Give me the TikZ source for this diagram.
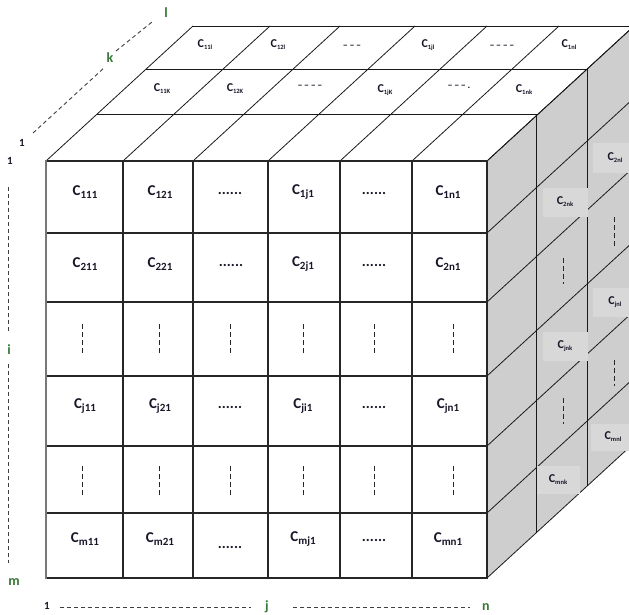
\documentclass[tikz,border=0pt]{standalone}
\usepackage{fontspec}
\setmainfont{Carlito}
\definecolor{facegray}{RGB}{206,206,206}
\definecolor{boxgray}{RGB}{216,216,216}
\definecolor{ink}{RGB}{22,22,40}
\definecolor{axisgreen}{RGB}{55,120,55}
\definecolor{edgegray}{RGB}{120,120,120}
\newcommand\FL[1]{{\fontsize{15}{15}\selectfont\bfseries C\raisebox{-2.6pt}{\fontsize{11}{11}\selectfont #1}}}
\newcommand\SL[1]{{\fontsize{12}{12}\selectfont\bfseries C\raisebox{-2pt}{\fontsize{6.5}{6.5}\selectfont #1}}}
\newcommand\DOTS{{\fontsize{15}{15}\selectfont\bfseries ......}}
\begin{document}
\begin{tikzpicture}[x=1pt,y=-1pt,
  grid/.style={draw=black!85,line width=1.1pt},
  thin/.style={draw=black!90,line width=0.8pt},
  flab/.style={inner sep=0pt,text=ink},
  slab/.style={inner sep=0pt,text=ink,fill=boxgray,minimum width=45pt,minimum height=29pt},
  tlab/.style={inner sep=0pt,text=ink},
  vmark/.style={draw=black!85,line width=1pt,dash pattern=on 5pt off 3pt},
  axdash/.style={draw=black!75,line width=0.9pt,dash pattern=on 4pt off 3pt},
  axnum/.style={inner sep=0pt,text=ink,font=\fontsize{11}{11}\selectfont\bfseries},
  axlet/.style={inner sep=0pt,text=axisgreen,font=\fontsize{14}{14}\selectfont\bfseries}]
\path[use as bounding box] (0,0) rectangle (629,615);
\begin{scope}
\clip (0,0) rectangle (629,615);
% right face
\fill[facegray] (487,161) -- (634,26) -- (634,443) -- (487,578) -- cycle;
% right face verticals (layers)
\draw[thin] (536,114) -- (536,533);
\draw[thin] (587,69) -- (587,486);
\draw[thin] (634,26) -- (634,443);
% right face diagonals
\foreach \y in {161,233,302,376,446,513,578}
  \draw[thin] (487,\y) -- (634,\y-135);
% top face horizontals
\draw[thin] (97,114) -- (536,114);
\draw[thin] (146,69) -- (587,69);
\draw[thin] (193,26) -- (634,26);
% top face slants
\foreach \x in {46,123,193,268,340,412,487}
  \draw[thin] (\x,161) -- (\x+147,26);
% front face
\foreach \x in {123,193,268,340,412}
  \draw[grid] (\x,161) -- (\x,578);
\foreach \y in {233,302,376,446,513}
  \draw[grid] (46,\y) -- (487,\y);
\draw[grid] (46,161) -- (487,161) -- (487,578) -- (46,578);
\draw[draw=edgegray,line width=1.8pt] (46,160) -- (46,579);
\end{scope}

% front labels
\node[flab] (f11) at (85,192) {\FL{111}};
\node[flab] (f12) at (160,192) {\FL{121}};
\node[flab] (f13) at (230,193) {\DOTS};
\node[flab] (f14) at (303,192) {\FL{1j1}};
\node[flab] (f15) at (374,193) {\DOTS};
\node[flab] (f16) at (448,192) {\FL{1n1}};
\node[flab] (f21) at (85,264) {\FL{211}};
\node[flab] (f22) at (160,264) {\FL{221}};
\node[flab] (f23) at (231,265) {\DOTS};
\node[flab] (f24) at (303,264) {\FL{2j1}};
\node[flab] (f25) at (374,265) {\DOTS};
\node[flab] (f26) at (448,264) {\FL{2n1}};
\node[flab] (f41) at (85,406) {\FL{j11}};
\node[flab] (f42) at (160,406) {\FL{j21}};
\node[flab] (f43) at (230,407) {\DOTS};
\node[flab] (f44) at (303,406) {\FL{ji1}};
\node[flab] (f45) at (374,407) {\DOTS};
\node[flab] (f46) at (448,406) {\FL{jn1}};
\node[flab] (f61) at (85,539) {\FL{m11}};
\node[flab] (f62) at (160,539) {\FL{m21}};
\node[flab] (f63) at (230,547) {\DOTS};
\node[flab] (f64) at (303,539) {\FL{mj1}};
\node[flab] (f65) at (374,540) {\DOTS};
\node[flab] (f66) at (448,539) {\FL{mn1}};
% vertical marks in front face
\foreach \x in {82,159,230,303,374,453} {
  \draw[vmark] (\x,324) -- (\x,353);
  \draw[vmark] (\x,466) -- (\x,495);
}
% top labels
\node[tlab] (t31) at (205,45) {\SL{11l}};
\node[tlab] (t32) at (278,45) {\SL{12l}};
\node[tlab] (t33) at (352,47) {\bfseries –\,–\,–};
\node[tlab] (t34) at (428,45) {\SL{1jl}};
\node[tlab] (t35) at (502,47) {\bfseries –\,–\,–\,–};
\node[tlab] (t36) at (569,45) {\SL{1nl}};
\node[tlab] (t21) at (162,89) {\SL{11K}};
\node[tlab] (t22) at (235,89) {\SL{12K}};
\node[tlab] (t23) at (310,87) {\bfseries –\,–\,–\,–};
\node[tlab] (t24) at (385,90) {\SL{1jK}};
\node[tlab] (t25) at (459,87) {\bfseries –\,–\,–\,.};
\node[tlab] (t26) at (524,90) {\SL{1nk}};
% right face labels
\begin{scope}
\clip (0,0) rectangle (629,615);
\node[slab] (r1) at (615,158) {\SL{2nl}};
\node[slab] (r2) at (565,202) {\SL{2nk}};
\node[slab] (r3) at (615,302) {\SL{jnl}};
\node[slab] (r4) at (565,346) {\SL{jnk}};
\node[slab,minimum height=27pt] (r5) at (613,437) {\SL{mnl}};
\node[slab,minimum width=43pt,minimum height=28pt] (r6) at (558,480) {\SL{mnk}};
\end{scope}
\draw[vmark] (563,258) -- (563,284);
\draw[vmark] (614,217) -- (614,247);
\draw[vmark] (563,398) -- (563,424);
\draw[vmark] (614,360) -- (614,386);
% axes
\node[axnum] (one1) at (22,143) {1};
\node[axnum] (one2) at (10,161) {1};
\node[axnum] (one3) at (47,606) {1};
\coordinate (d0) at (33,133);
\coordinate (d1) at (105,67);
\coordinate (d2) at (116,51);
\coordinate (d3) at (152,22);
\node[axlet] (k) at (110,58) {k};
\node[axlet] (l) at (166,13) {l};
\draw[axdash] (d0) -- (d1);
\draw[axdash] (d2) -- (d3);
\coordinate (v0) at (8,187);
\coordinate (v1) at (8,332);
\coordinate (v2) at (8,364);
\coordinate (v3) at (8,563);
\node[axlet] (i) at (9,350) {i};
\node[axlet] (m) at (14,582) {m};
\draw[axdash] (v0) -- (v1);
\draw[axdash] (v2) -- (v3);
\coordinate (h0) at (60,607);
\coordinate (h1) at (251,607);
\coordinate (h2) at (293,607);
\coordinate (h3) at (470,607);
\node[axlet] (j) at (267,607) {j};
\node[axlet] (n) at (486,607) {n};
\draw[axdash] (h0) -- (h1);
\draw[axdash] (h2) -- (h3);
\end{tikzpicture}
\end{document}
